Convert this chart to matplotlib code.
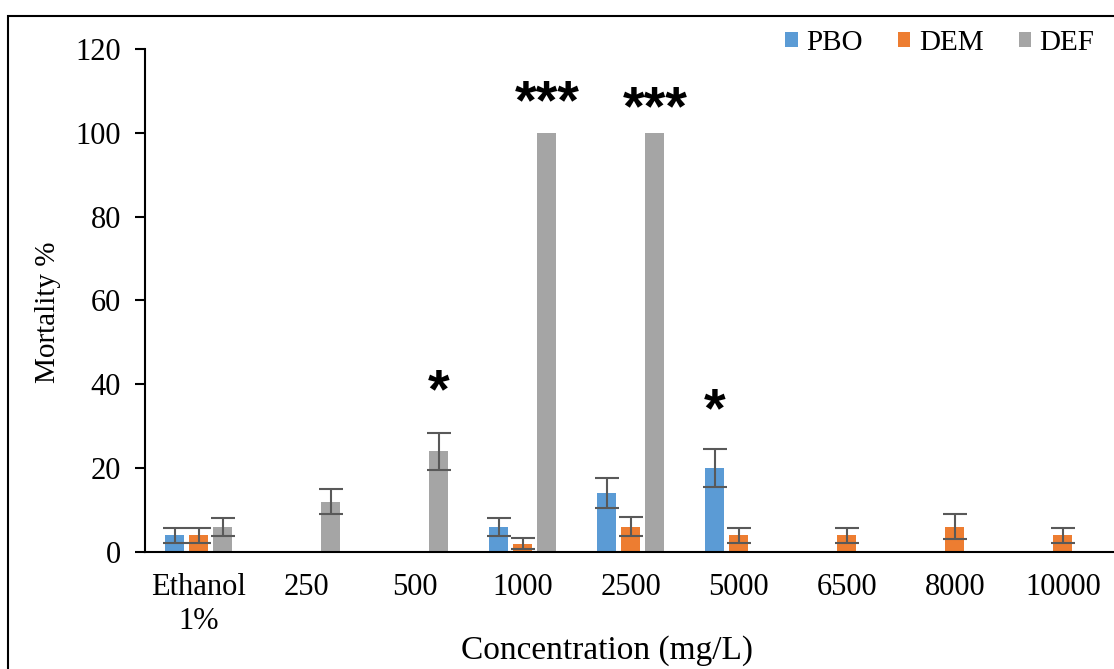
import numpy as np
import matplotlib.pyplot as plt
from matplotlib.patches import Rectangle

plt.rcParams['font.family'] = ['Liberation Serif', 'DejaVu Serif']

# concentrations tested (mg/L)
categories = ['Ethanol\n1%', '250', '500', '1000', '2500', '5000', '6500', '8000', '10000']

# mortality % per synergist, 0 = not tested / no mortality
pbo = [4, 0, 0, 6, 14, 20, 0, 0, 0]
dem = [4, 0, 0, 2, 6, 4, 4, 6, 4]
deff = [6, 12, 24, 100, 100, 0, 0, 0, 0]

# standard errors
pbo_err = [1.8, 0, 0, 2.2, 3.6, 4.6, 0, 0, 0]
dem_err = [1.8, 0, 0, 1.4, 2.3, 1.8, 1.8, 3.0, 1.8]
deff_err = [2.2, 3.0, 4.4, 0, 0, 0, 0, 0, 0]

# significance marks: (category index, series index, label, y of baseline)
stars = [(2, 2, '*', 34.5), (3, 2, '***', 103.5), (4, 2, '***', 102), (5, 0, '*', 30)]

series = [('PBO', pbo, pbo_err, '#5B9BD5'),
          ('DEM', dem, dem_err, '#ED7D31'),
          ('DEF', deff, deff_err, '#A5A5A5')]

fig = plt.figure(figsize=(11.14, 6.69), dpi=100)
ax = fig.add_axes([0.130, 0.175, 0.8725, 0.7517])

x = np.arange(len(categories))
step = 0.223
width = 0.176
for i, (name, vals, errs, col) in enumerate(series):
    pos = x + (i - 1) * step
    ax.bar(pos, vals, width, color=col, label=name, zorder=2)
    v = np.array(vals, dtype=float)
    e = np.array(errs, dtype=float)
    m = (v > 0) & (e > 0)
    ax.errorbar(pos[m], v[m], yerr=e[m], fmt='none', ecolor='#595959',
                elinewidth=1.5, capsize=8.5, capthick=1.5, zorder=3)

for ci, si, txt, yv in stars:
    ax.text(x[ci] + (si - 1) * step, yv, txt, ha='center', va='baseline',
            fontsize=40, fontweight='bold', family=['Liberation Sans', 'DejaVu Sans'])

ax.set_xlim(-0.5, len(categories) - 0.5)
ax.set_ylim(0, 120)
ax.set_yticks(np.arange(0, 121, 20))
ax.set_xticks(x)
ax.set_xticklabels(categories, linespacing=1.22)
ax.tick_params(axis='x', length=0, labelsize=22, pad=15)
ax.tick_params(axis='y', direction='out', length=7, width=1.5, labelsize=22, pad=10)

for s in ['top', 'right']:
    ax.spines[s].set_visible(False)
ax.spines['left'].set_linewidth(1.5)
ax.spines['bottom'].set_linewidth(1.5)

ax.set_ylabel('Mortality %', fontsize=21, va='center')
ax.yaxis.set_label_coords(-0.1, 0.477)
ax.set_xlabel('Concentration (mg/L)', fontsize=24, va='center')
ax.xaxis.set_label_coords(0.476, -0.196)

ax.legend(loc='upper right', bbox_to_anchor=(1.004, 1.09), ncol=3, frameon=False,
          fontsize=21, handlelength=0.42, handleheight=0.42, handletextpad=0.3,
          columnspacing=1.2)

# outer frame around the chart area
fig.patches.append(Rectangle((8 / 1114, -0.1), 1.2, 1.1 - 16 / 669,
                             transform=fig.transFigure, fill=False,
                             edgecolor='black', linewidth=1.5))

fig.savefig('out.png', dpi=100)
